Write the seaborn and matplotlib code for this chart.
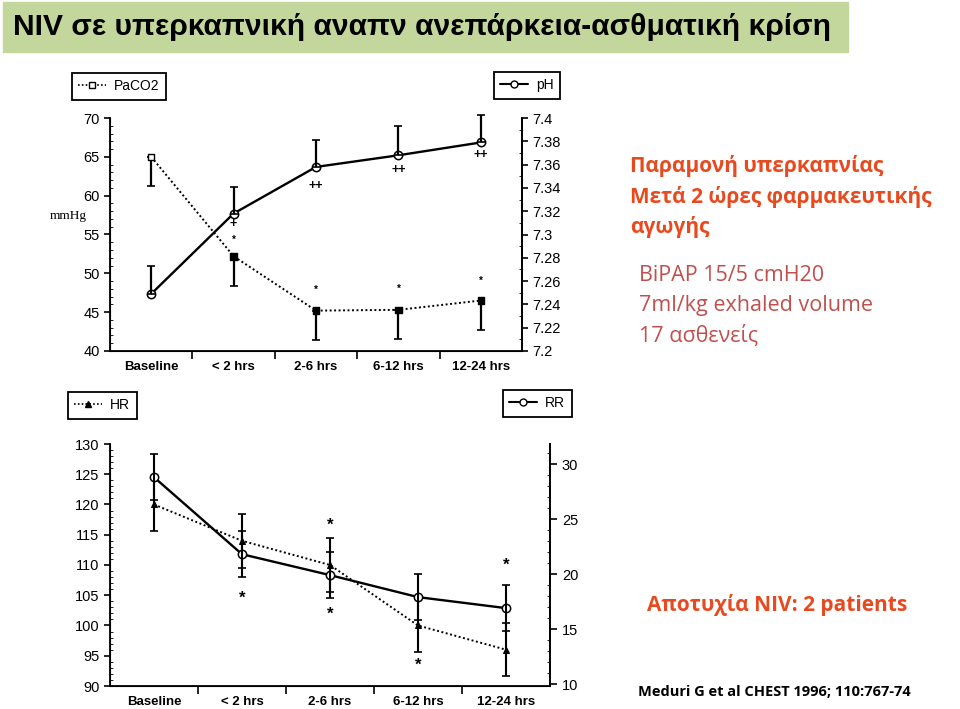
import numpy as np
import matplotlib
matplotlib.use('Agg')
import matplotlib.pyplot as plt
import seaborn as sns
from matplotlib.lines import Line2D
from matplotlib.patches import Rectangle

# data
categories = ['Baseline', '< 2 hrs', '2-6 hrs', '6-12 hrs', '12-24 hrs']
paco2 = [65.0, 52.2, 45.2, 45.3, 46.5]
paco2_sd = [3.7, 3.8, 3.8, 3.8, 3.8]
ph = [7.249, 7.318, 7.358, 7.368, 7.379]
ph_sd = [0.024, 0.023, 0.023, 0.025, 0.024]
hr = [120, 114, 110, 100, 96]
hr_sd = [4.3, 4.5, 4.5, 4.4, 4.4]
rr = [28.8, 21.8, 19.9, 17.9, 16.9]
rr_sd = [2.1, 2.1, 2.1, 2.1, 2.1]

top_marks = [('+', 1, 56.4), ('*', 1, 54.3), ('++', 2, 61.3), ('++', 3, 63.3),
             ('++', 4, 65.2), ('*', 2, 47.9), ('*', 3, 48.0), ('*', 4, 49.0)]
bottom_marks = [('*', 1, 104.5), ('*', 2, 116.5), ('*', 2, 101.9),
                ('*', 3, 93.4), ('*', 4, 109.9)]

title = 'NIV σε υπερκαπνική αναπν ανεπάρκεια-ασθματική κρίση'
heading = ['Παραμονή υπερκαπνίας', 'Μετά 2 ώρες φαρμακευτικής', 'αγωγής']
body = ['BiPAP 15/5 cmH20', '7ml/kg exhaled volume', '17 ασθενείς']
failure = 'Αποτυχία NIV: 2 patients'
ref = 'Meduri G et al CHEST 1996; 110:767-74'

sns.set_style('ticks')
plt.rcParams['font.family'] = ['Liberation Sans', 'DejaVu Sans']
for k in ['text.color', 'xtick.color', 'ytick.color', 'axes.edgecolor', 'axes.labelcolor']:
    plt.rcParams[k] = 'black'

W, H = 960, 709
fig = plt.figure(figsize=(9.6, 7.09), dpi=100)
red = '#E84A1F'
body_red = '#C0504D'
dots = (0, (1, 1.3))
pos = np.arange(len(categories))


def px(x0, y0, w, h):
    return [x0 / W, 1 - (y0 + h) / H, w / W, h / H]


def style_x(ax):
    ax.set_xlim(-0.5, len(categories) - 0.5)
    ax.set_xticks(pos)
    ax.set_xticklabels(categories, fontsize=9.5, fontweight='bold')
    ax.tick_params(axis='x', which='major', length=0, pad=7)
    ax.set_xticks(pos[:-1] + 0.5, minor=True)
    ax.tick_params(axis='x', which='minor', length=6, width=1.2, direction='out')
    for s in ['bottom', 'left', 'right']:
        ax.spines[s].set_linewidth(1.3)
    ax.spines['top'].set_visible(False)


def unclip(cont):
    for art in cont.get_children():
        art.set_clip_on(False)


# title banner
fig.patches.append(Rectangle((3 / W, 1 - 52 / H), 845 / W, 50 / H,
                             transform=fig.transFigure, color='#C3D69B', zorder=0))
fig.text(13 / W, 1 - 27 / H, title, fontsize=21.6, fontweight='bold',
         va='center', ha='left')

# ---- top chart: PaCO2 / pH
ax = fig.add_axes(px(110, 118, 412, 233))
sns.lineplot(x=pos, y=paco2, ax=ax, color='black', linestyle=dots, linewidth=1.4)
unclip(ax.errorbar(pos, paco2, yerr=[paco2_sd, [0] * 5], fmt='none', ecolor='black',
                   elinewidth=1.6, capsize=3, capthick=1.2))
ax.scatter(pos, paco2, marker='s', s=22, zorder=5,
           facecolors=['white', 'black', 'black', 'black', 'black'],
           edgecolors='black', linewidths=1)
ax.set_ylim(40, 70)
ax.set_yticks(range(40, 71, 5))
ax.set_yticks(range(40, 71, 1), minor=True)
ax.tick_params(axis='y', which='major', length=4, width=1.2, labelsize=10.5)
ax.tick_params(axis='y', which='minor', length=2, direction='in')
style_x(ax)
for t, i, v in top_marks:
    ax.text(i, v, t, ha='center', va='center',
            fontsize=9 if '+' in t else 7, fontweight='bold')
fig.text(68 / W, 1 - 216 / H, 'mmHg', family='Liberation Serif', fontsize=9.5,
         ha='center', va='center')

ax2 = ax.twinx()
sns.lineplot(x=pos, y=ph, ax=ax2, color='black', linewidth=1.7,
             marker='o', markersize=6, markerfacecolor='white',
             markeredgecolor='black', markeredgewidth=1.1)
unclip(ax2.errorbar(pos, ph, yerr=[[0] * 5, ph_sd], fmt='none', ecolor='black',
                    elinewidth=1.6, capsize=3, capthick=1.2))
ax2.set_ylim(7.2, 7.4)
ph_ticks = np.round(np.arange(7.2, 7.401, 0.02), 2)
ax2.set_yticks(ph_ticks)
ax2.set_yticklabels([f'{v:g}' for v in ph_ticks])
ax2.set_yticks(np.round(np.arange(7.2, 7.401, 0.01), 2), minor=True)
ax2.tick_params(axis='y', which='major', length=4, width=1.2, labelsize=10.5)
ax2.tick_params(axis='y', which='minor', length=2, direction='in')
ax2.spines['top'].set_visible(False)
ax2.spines['right'].set_linewidth(1.3)

h_paco2 = Line2D([], [], color='black', linestyle=dots, linewidth=1.2,
                 marker='s', markersize=4, markerfacecolor='white')
h_ph = Line2D([], [], color='black', linewidth=1.5, marker='o', markersize=5,
              markerfacecolor='white')
leg_kw = dict(fancybox=False, edgecolor='black', framealpha=1, fontsize=10,
              handlelength=2.0, borderaxespad=0, bbox_transform=fig.transFigure,
              loc='upper left', borderpad=0.45, handletextpad=0.6)
l1 = ax.legend([h_paco2], ['PaCO2'], bbox_to_anchor=(72 / W, 1 - 73 / H), **leg_kw)
l1.get_frame().set_linewidth(1.3)
l2 = ax2.legend([h_ph], ['pH'], bbox_to_anchor=(494 / W, 1 - 72 / H), **leg_kw)
l2.get_frame().set_linewidth(1.3)

# ---- bottom chart: HR / RR
bx = fig.add_axes(px(110, 444, 440, 242))
sns.lineplot(x=pos, y=hr, ax=bx, color='black', linestyle=dots, linewidth=1.4,
             marker='^', markersize=5, markerfacecolor='black',
             markeredgecolor='black')
bx.errorbar(pos, hr, yerr=hr_sd, fmt='none', ecolor='black',
            elinewidth=1.5, capsize=3, capthick=1.2)
bx.set_ylim(90, 130)
bx.set_yticks(range(90, 131, 5))
bx.set_yticks(range(90, 131, 1), minor=True)
bx.tick_params(axis='y', which='major', length=4, width=1.2, labelsize=10.5)
bx.tick_params(axis='y', which='minor', length=2, direction='in')
style_x(bx)
for t, i, v in bottom_marks:
    bx.text(i, v, t, ha='center', va='center', fontsize=12, fontweight='bold')

bx2 = bx.twinx()
sns.lineplot(x=pos, y=rr, ax=bx2, color='black', linewidth=1.7,
             marker='o', markersize=6, markerfacecolor='white',
             markeredgecolor='black', markeredgewidth=1.1)
bx2.errorbar(pos, rr, yerr=rr_sd, fmt='none', ecolor='black',
             elinewidth=1.5, capsize=3, capthick=1.2)
bx2.set_ylim(9.82, 31.82)
bx2.set_yticks([10, 15, 20, 25, 30])
bx2.set_yticks(range(10, 32), minor=True)
bx2.tick_params(axis='y', which='major', length=5, width=1.2, labelsize=10.5)
bx2.tick_params(axis='y', which='minor', length=2.5, direction='in')
bx2.spines['top'].set_visible(False)
bx2.spines['right'].set_linewidth(1.3)

h_hr = Line2D([], [], color='black', linestyle=dots, linewidth=1.2,
              marker='^', markersize=4, markerfacecolor='black')
h_rr = Line2D([], [], color='black', linewidth=1.5, marker='o', markersize=5,
              markerfacecolor='white')
l3 = bx.legend([h_hr], ['HR'], bbox_to_anchor=(68 / W, 1 - 392 / H), **leg_kw)
l3.get_frame().set_linewidth(1.3)
l4 = bx2.legend([h_rr], ['RR'], bbox_to_anchor=(503 / W, 1 - 390 / H), **leg_kw)
l4.get_frame().set_linewidth(1.3)

# ---- slide text on the right
fam = ['Open Sans', 'DejaVu Sans']
for k, line in enumerate(heading):
    fig.text(630 / W, 1 - (166 + 30.5 * k) / H, line, family=fam, fontsize=15,
             fontweight='bold', color=red, va='center', ha='left')
for k, line in enumerate(body):
    fig.text(639 / W, 1 - (275 + 30.5 * k) / H, line, family=fam, fontsize=15.5,
             color=body_red, va='center', ha='left')
fig.text(647 / W, 1 - 605 / H, failure, family=fam, fontsize=15,
         fontweight='bold', color=red, va='center', ha='left')
fig.text(638 / W, 1 - 692 / H, ref, family=fam, fontsize=10.5, fontweight='bold',
         color='black', va='center', ha='left')

fig.savefig('out.png', dpi=100)
